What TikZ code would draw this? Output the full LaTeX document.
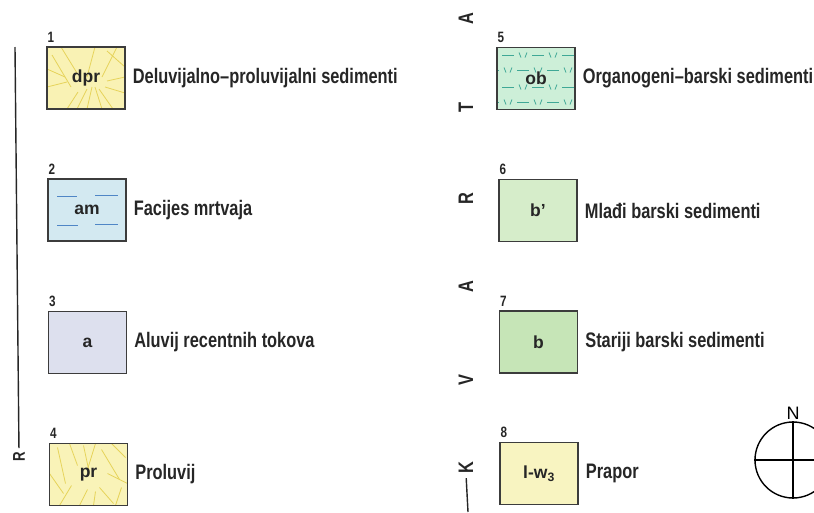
\documentclass[tikz,border=0pt]{standalone}
\usepackage{fontspec}
\setmainfont{Liberation Sans}
\newfontfamily\condfont{Liberation Sans}[FakeStretch=0.78]
\usetikzlibrary{positioning,calc}

\definecolor{boxline}{HTML}{3C3C3C}
\definecolor{inkcol}{HTML}{262626}
\definecolor{dprfill}{HTML}{F9F2B4}
\definecolor{dprline}{HTML}{E6D35A}
\definecolor{amfill}{HTML}{D3E9F1}
\definecolor{amline}{HTML}{4F86C6}
\definecolor{afill}{HTML}{DDE0EE}
\definecolor{prfill}{HTML}{F9F3B8}
\definecolor{obfill}{HTML}{CDEFD8}
\definecolor{obline}{HTML}{3FA896}
\definecolor{bpfill}{HTML}{D6EDCA}
\definecolor{bfill}{HTML}{C6E5B7}
\definecolor{lwfill}{HTML}{F8F4C1}

\tikzset{
  legbox/.style={draw=boxline,line width=1.3pt,minimum width=78pt,minimum height=62pt,
    inner sep=0pt,text=inkcol,font=\fontsize{17.5}{17.5}\selectfont\bfseries},
  legnum/.style={inner sep=0pt,text=inkcol,font=\condfont\fontsize{15}{15}\selectfont\bfseries},
  legtxt/.style={inner sep=0pt,text=inkcol,font=\condfont\fontsize{21}{22}\selectfont\bfseries},
  sidelet/.style={rotate=90,inner sep=0pt,text=inkcol,font=\condfont\fontsize{21}{21}\selectfont\bfseries},
  sideline/.style={draw=inkcol,line width=1.4pt},
  nopat/.style={},
  % radiating yellow strokes
  dprpat/.style={path picture={
    \coordinate (pnw) at (path picture bounding box.north west);
    \foreach \a/\b/\c/\d in {5/8/24/40, 14/0/30/26, 48/0/40/30, 60/4/78/20, 70/0/55/30,
        40/62/45/40, 55/62/48/40, 66/62/52/42, 30/62/40/42, 20/62/31/45,
        0/40/20/35, 78/46/58/40, 0/22/18/30, 78/30/60/34}
      \draw[dprline,line width=0.8pt] ($(pnw)+(\a,\b)$) -- ($(pnw)+(\c,\d)$);
  }},
  prpat/.style={path picture={
    \coordinate (pnw) at (path picture bounding box.north west);
    \foreach \a/\b/\c/\d in {8/4/16/40, 20/0/28/22, 34/2/40/30, 46/0/38/26, 52/6/70/36,
        62/0/76/14, 10/62/22/42, 30/62/38/46, 50/44/64/60, 58/30/78/40,
        0/30/14/50, 66/62/72/44, 44/62/46/48}
      \draw[dprline,line width=0.8pt] ($(pnw)+(\a,\b)$) -- ($(pnw)+(\c,\d)$);
  }},
  % short blue dashes
  ampat/.style={path picture={
    \coordinate (pnw) at (path picture bounding box.north west);
    \foreach \a/\b/\c in {9/29/17, 47/70/16, 9/30/46, 47/70/45}
      \draw[amline,line width=0.9pt] ($(pnw)+(\a,\c)$) -- ($(pnw)+(\b,\c)$);
  }},
  % dashes and ticks
  obpat/.style={path picture={
    \coordinate (pnw) at (path picture bounding box.north west);
    \foreach \y/\s in {8/0,23/15,40/0,55/15}{
      \foreach \x in {-19,11,41,71}{
        \draw[obline,line width=0.9pt] ($(pnw)+(\x+\s-6,\y)$) -- ($(pnw)+(\x+\s+6,\y)$);
        \draw[obline,line width=0.8pt] ($(pnw)+(\x+\s+11,\y-3)$) -- ($(pnw)+(\x+\s+13,\y+2)$);
        \draw[obline,line width=0.8pt] ($(pnw)+(\x+\s+17,\y+2)$) -- ($(pnw)+(\x+\s+19,\y-3)$);
      }
    }
  }}
}

\begin{document}
\begin{tikzpicture}[x=1pt,y=-1pt]
\useasboundingbox (0,0) rectangle (814,512);

% legend entries
\foreach \n/\pos/\col/\pat/\lab/\txt in {
    1/{(86,78)}/dprfill/dprpat/{dpr}/{Deluvijalno–proluvijalni sedimenti},
    2/{(87,210)}/amfill/ampat/{am}/{Facijes mrtvaja},
    3/{(87.5,342.5)}/afill/nopat/{a}/{Aluvij recentnih tokova},
    4/{(88.5,474.5)}/prfill/prpat/{pr}/{Proluvij},
    5/{(536,78.5)}/obfill/obpat/{ob}/{Organogeni–barski sedimenti},
    6/{(538,210.5)}/bpfill/nopat/{b'}/{Mlađi barski sedimenti},
    7/{(538.5,342)}/bfill/nopat/{b}/{Stariji barski sedimenti},
    8/{(539,473.5)}/lwfill/nopat/{l-w\textsubscript{3}}/{Prapor}%
}{
  \node[legbox,fill=\col,\pat] (box\n) at \pos {\lab};
  \node[legnum,above right=4pt and 1pt of box\n.north west] (num\n) {\n};
  \node[legtxt,right=7pt of box\n] (txt\n) {\txt};
}

% left bracket
\coordinate (ltop) at (15,47);
\node[sidelet,font=\condfont\fontsize{17}{17}\selectfont\bfseries] (lR) at (19,457) {R};
\draw[sideline,shorten >=4pt] (ltop) -- (lR.east);

% right column letters
\foreach \y/\ltr/\nm in {19/A/a1,107/T/t1,199/R/r1,287/A/a2,380/V/v1,468/K/k1}{
  \node[sidelet] (\nm) at (466,\y) {\ltr};
}
\coordinate (rbot) at (468,512);
\draw[sideline,shorten <=4pt] (k1.west) -- (rbot);

% north sign
\node[circle,draw=black,line width=1.4pt,minimum size=76pt,inner sep=0pt] (compass) at (793,460) {};
\node[above=2pt of compass,inner sep=0pt,font=\fontsize{18}{18}\selectfont] (north) {N};
\draw[line width=2.4pt] (compass.north) -- (compass.center);
\draw[line width=1.4pt] (compass.center) -- (compass.south);
\draw[line width=1.4pt] (compass.west) -- (compass.east);
\end{tikzpicture}
\end{document}
